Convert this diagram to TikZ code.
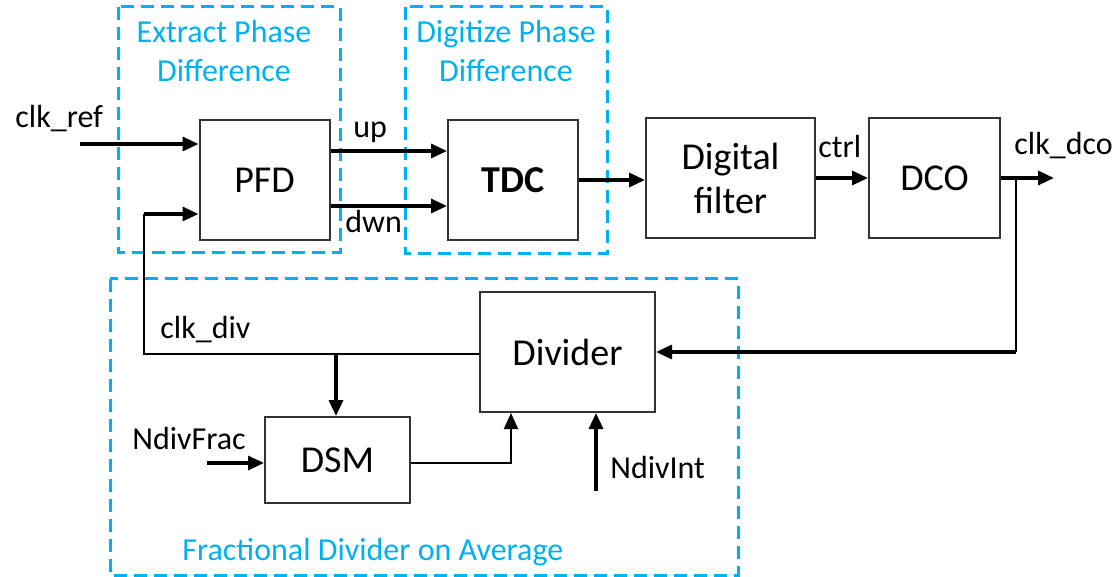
\documentclass[tikz,border=0pt]{standalone}
\usepackage{fontspec}
\setmainfont{Carlito}
\usetikzlibrary{arrows.meta,calc}
\definecolor{phaseblue}{RGB}{0,176,240}
\begin{document}
\begin{tikzpicture}[x=0.5pt,y=-0.5pt,
  block/.style={draw=black!80,line width=1pt,rectangle,inner sep=0pt,
    font=\fontsize{19}{22}\selectfont,align=center},
  lbl/.style={inner sep=0pt,font=\fontsize{16}{19}\selectfont},
  title/.style={inner sep=0pt,text=phaseblue,align=center,
    font=\fontsize{16}{19.5}\selectfont},
  group/.style={draw=phaseblue,line width=1.5pt,dash pattern=on 6.5pt off 3.5pt},
  arr/.style={line width=1.6pt,-{Triangle[length=8pt,width=7pt]}},
  thinarr/.style={line width=1pt,-{Triangle[length=8pt,width=7pt]}},
  wire/.style={line width=1pt}]
\useasboundingbox (0,0) rectangle (1114,577);

% dashed grouping boxes
\draw[group] (118,7) rectangle (340,253);
\draw[group] (405,7) rectangle (607,254);
\draw[group] (110,279) rectangle (738,575);
\node[title,anchor=base] (t1a) at (224,43) {Extract Phase};
\node[title,anchor=base] (t1b) at (224,82) {Difference};
\node[title,anchor=base] (t2a) at (506,43) {Digitize Phase};
\node[title,anchor=base] (t2b) at (506,82) {Difference};
\node[title,anchor=base west] (t3) at (182,560) {Fractional Divider on Average};

% blocks
\node[block,minimum width=65pt,minimum height=60pt] (pfd) at (264.5,180) {PFD};
\node[block,minimum width=65pt,minimum height=60pt] (tdc) at (513,180) {\bfseries TDC};
\node[block,minimum width=84.5pt,minimum height=60pt] (flt) at (730.5,178) {Digital\\filter};
\node[block,minimum width=65.5pt,minimum height=60pt] (dco) at (934.5,178) {DCO};
\node[block,minimum width=87.5pt,minimum height=60pt] (div) at (567.5,352) {Divider};
\node[block,minimum width=72.5pt,minimum height=43pt] (dsm) at (337.5,460) {DSM};

% helper points
\coordinate (cref) at (80,144);
\coordinate (upy) at (0,151);
\coordinate (dwny) at (0,206);
\coordinate (fby) at (0,214);
\coordinate (cout) at (1054,178);
\coordinate (tap) at (1016,178);
\coordinate (cdiv) at (144,354);
\coordinate (ctap) at (336,354);
\coordinate (nfrac) at (207,463);
\coordinate (dsmx) at (511,463);
\coordinate (nint) at (596,491);

% connectors
\draw[arr] (cref) -- (cref -| pfd.west);
\draw[arr] (pfd.east |- upy) -- (tdc.west |- upy);
\draw[arr] (pfd.east |- dwny) -- (tdc.west |- dwny);
\draw[arr] (tdc.east) -- (tdc.east -| flt.west);
\draw[arr] (flt.east) -- (dco.west);
\draw[arr] (dco.east) -- (cout);
\draw[wire] (tap) -- (tap |- div.east);
\draw[arr] (tap |- div.east) -- (div.east);
\draw[wire] (div.west |- cdiv) -- (cdiv) -- (cdiv |- fby);
\draw[arr] (cdiv |- fby) -- (fby -| pfd.west);
\draw[arr] (ctap) -- (ctap |- dsm.north);
\draw[arr] (nfrac) -- (nfrac -| dsm.west);
\draw[thinarr] (dsm.east |- dsmx) -- (dsmx) -- (dsmx |- div.south);
\draw[arr] (nint) -- (nint |- div.south);

% signal labels
\node[lbl,anchor=base west] (lref) at (15,128) {clk\_ref};
\node[lbl,anchor=base west] (lup) at (353,138) {up};
\node[lbl,anchor=base west] (ldwn) at (345,233) {dwn};
\node[lbl,anchor=base west] (lctrl) at (818,158) {ctrl};
\node[lbl,anchor=base west] (ldco) at (1014,155) {clk\_dco};
\node[lbl,anchor=base west] (ldiv) at (160,339) {clk\_div};
\node[lbl,anchor=base west] (lfrac) at (132,449) {NdivFrac};
\node[lbl,anchor=base west] (lint) at (610,478) {NdivInt};
\end{tikzpicture}
\end{document}
